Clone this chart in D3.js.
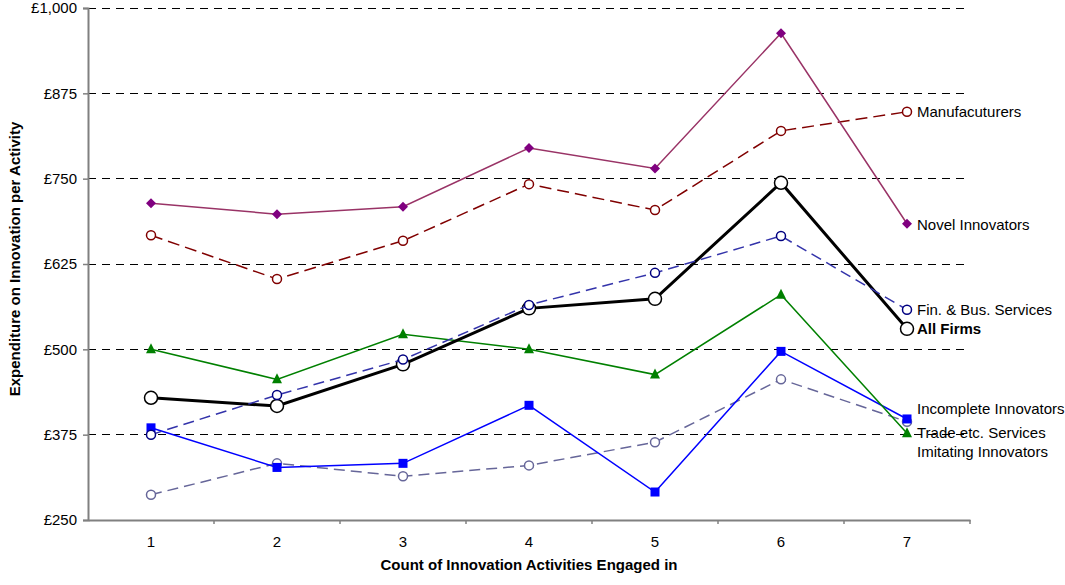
<!DOCTYPE html>
<html>
<head>
<meta charset="utf-8">
<script src="https://cdn.jsdelivr.net/npm/d3@7"></script>
<style>
  body { margin: 0; background: #fff; }
  svg text { font-family: "Liberation Sans", Arial, sans-serif; fill: #000; }
</style>
</head>
<body>
<svg id="chart"></svg>
<script>
// Data
const categories = [1, 2, 3, 4, 5, 6, 7];
const yTicks = [250, 375, 500, 625, 750, 875, 1000];

const novelInnovators = [714, 698, 709, 795, 765, 963, 684];
const manufacturers = [667, 603, 659, 742, 704, 820, 848];
const allFirms = [429, 417, 478, 560, 574, 744, 530];
const finBusServices = [375, 433, 485, 565, 612, 666, 558];
const tradeServices = [500, 456, 522, 500, 463, 580, 377];
const incompleteInnovators = [385, 327, 333, 418, 291, 497, 398];
const imitatingInnovators = [287, 333, 314, 330, 364, 456, 394];

// Set up dimensions
const W = 1065, H = 585;
const margin = {top: 8, right: 95, bottom: 65, left: 88},
width = W - margin.left - margin.right,
height = H - margin.top - margin.bottom;

const svg = d3.select("#chart")
  .attr("width", W)
  .attr("height", H)
  .append("g")
  .attr("transform", `translate(${margin.left},${margin.top})`);

// Scales
const x = d3.scaleBand()
  .domain(categories)
  .range([0, width]);

const y = d3.scaleLinear()
  .domain([250, 1000])
  .range([height, 0]);

const fmt = d3.format(",");

// Gridlines
svg.append("g")
  .selectAll("line")
  .data(yTicks.slice(1))
  .join("line")
  .attr("x1", 0)
  .attr("x2", width)
  .attr("y1", d => y(d))
  .attr("y2", d => y(d))
  .attr("stroke", "#000")
  .attr("stroke-width", 1)
  .attr("stroke-dasharray", "8,6")
  .attr("shape-rendering", "crispEdges");

// Y axis
const yAxis = svg.append("g")
  .call(d3.axisLeft(y).tickValues(yTicks).tickSize(5).tickPadding(6).tickFormat(d => "£" + fmt(d)));
yAxis.select(".domain").attr("stroke", "#808080").attr("stroke-width", 2);
yAxis.selectAll(".tick line").attr("stroke", "#808080").attr("stroke-width", 1.5);
yAxis.selectAll("text").style("font-size", "15px").attr("fill", "#000");

// X axis (ticks sit between categories)
const xAxis = svg.append("g")
  .attr("transform", `translate(0,${height})`)
  .call(d3.axisBottom(x).tickSize(4).tickSizeOuter(0).tickPadding(12));
xAxis.select(".domain").attr("stroke", "#808080").attr("stroke-width", 2);
xAxis.selectAll(".tick line")
  .attr("stroke", "#808080")
  .attr("stroke-width", 1.5)
  .attr("x1", x.bandwidth() / 2)
  .attr("x2", x.bandwidth() / 2);
xAxis.selectAll("text").style("font-size", "15px").attr("fill", "#000");

// Axis titles
svg.append("text")
  .attr("x", width / 2)
  .attr("y", height + 50)
  .attr("text-anchor", "middle")
  .style("font-size", "15px")
  .style("font-weight", "bold")
  .text("Count of Innovation Activities Engaged in");

svg.append("text")
  .attr("transform", `translate(${20 - margin.left},${259 - margin.top}) rotate(-90)`)
  .attr("text-anchor", "middle")
  .style("font-size", "15px")
  .style("font-weight", "bold")
  .text("Expenditure on Innovation per Activity");

// Series
const series = [
  {name: "Imitating Innovators", values: imitatingInnovators, line: "#666699", dash: "11,6", width: 1.5,
   marker: "circle", r: 4.5, fill: "#fff", mstroke: "#666699", dy: 30},
  {name: "Incomplete Innovators", values: incompleteInnovators, line: "#0000ff", dash: null, width: 1.5,
   marker: "square", r: 4.5, fill: "#0000ff", mstroke: "#0000ff", dy: -10},
  {name: "Trade etc. Services", values: tradeServices, line: "#008000", dash: null, width: 1.5,
   marker: "triangle", r: 5, fill: "#008000", mstroke: "#008000", dy: -1},
  {name: "Manufacuturers", values: manufacturers, line: "#800000", dash: "12,6", width: 1.5,
   marker: "circle", r: 4.5, fill: "#fff", mstroke: "#800000", dy: 0},
  {name: "Novel Innovators", values: novelInnovators, line: "#993366", dash: null, width: 1.5,
   marker: "diamond", r: 5, fill: "#800080", mstroke: "#800080", dy: 1},
  {name: "All Firms", values: allFirms, line: "#000000", dash: null, width: 3,
   marker: "circle", r: 6.5, fill: "#fff", mstroke: "#000", dy: 0, bold: true},
  {name: "Fin. & Bus. Services", values: finBusServices, line: "#3333aa", dash: "11,6", width: 1.5,
   marker: "circle", r: 4.5, fill: "#fff", mstroke: "#000080", dy: 0}
];

const cx = d => x(d) + x.bandwidth() / 2;
const line = d3.line()
  .x((v, i) => cx(categories[i]))
  .y(v => y(v));

series.forEach(s => {
  const g = svg.append("g");
  g.append("path")
    .attr("d", line(s.values))
    .attr("fill", "none")
    .attr("stroke", s.line)
    .attr("stroke-width", s.width)
    .attr("stroke-dasharray", s.dash);

  const pts = g.selectAll(".pt")
    .data(s.values)
    .join("g")
    .attr("transform", (v, i) => `translate(${cx(categories[i])},${y(v)})`);

  if (s.marker === "circle") {
    pts.append("circle").attr("r", s.r)
      .attr("fill", s.fill).attr("stroke", s.mstroke).attr("stroke-width", 1.5);
  } else if (s.marker === "square") {
    pts.append("rect").attr("x", -s.r).attr("y", -s.r)
      .attr("width", 2 * s.r).attr("height", 2 * s.r).attr("fill", s.fill);
  } else if (s.marker === "triangle") {
    pts.append("path").attr("d", `M0,${-s.r - 1}L${s.r},${s.r - 1}L${-s.r},${s.r - 1}Z`).attr("fill", s.fill);
  } else if (s.marker === "diamond") {
    pts.append("path").attr("d", `M0,${-s.r}L${s.r},0L0,${s.r}L${-s.r},0Z`).attr("fill", s.fill);
  }

  const last = s.values[s.values.length - 1];
  svg.append("text")
    .attr("x", cx(categories[categories.length - 1]) + 10)
    .attr("y", y(last) + s.dy)
    .attr("dy", "0.35em")
    .style("font-size", "15px")
    .style("font-weight", s.bold ? "bold" : "normal")
    .attr("fill", "#222")
    .text(s.name);
});
</script>
</body>
</html>
